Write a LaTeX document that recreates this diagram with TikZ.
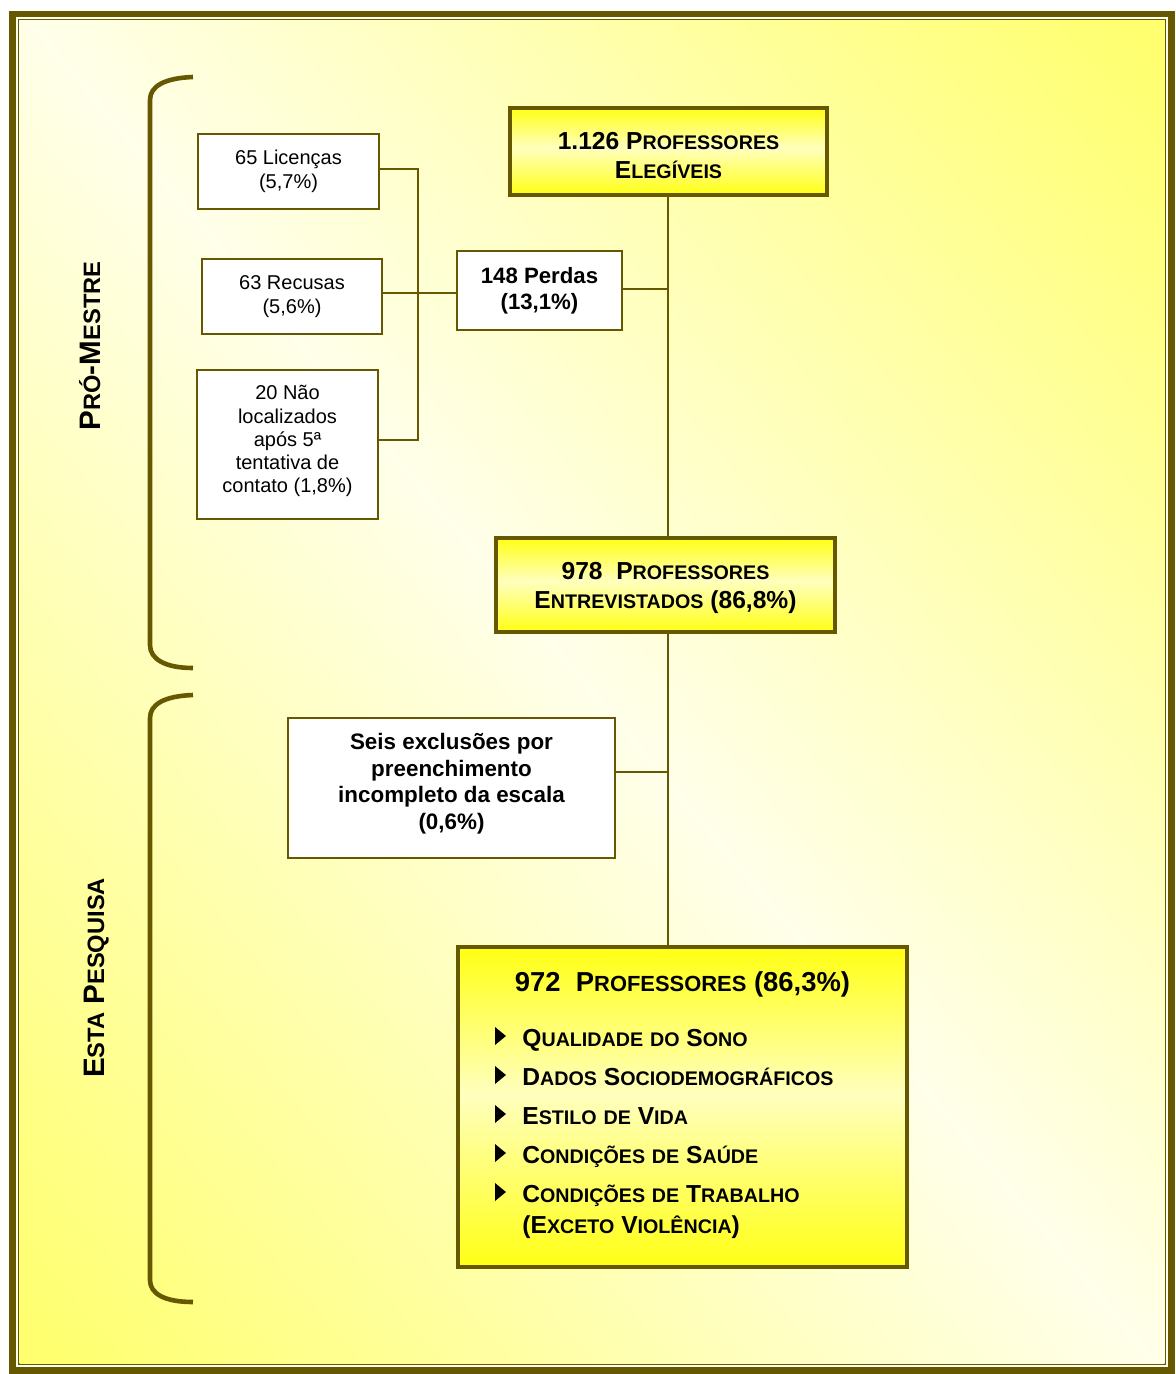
\documentclass[tikz,border=0pt]{standalone}
\usepackage{fontspec}
\setmainfont{Liberation Sans}
\usepackage{graphicx}
\definecolor{olv}{RGB}{102,88,0}
\definecolor{bgY}{RGB}{255,255,112}
\definecolor{bgW}{RGB}{255,255,234}
\definecolor{byY}{RGB}{255,255,20}
\definecolor{byW}{RGB}{255,255,190}
\definecolor{strip}{RGB}{255,255,240}
\pgfdeclarehorizontalshading{bgsh}{100bp}{color(0bp)=(bgY); color(16bp)=(bgY); color(50bp)=(bgW); color(84bp)=(bgY); color(100bp)=(bgY)}
\pgfdeclareverticalshading{boxsh}{100bp}{color(0bp)=(byY); color(25bp)=(byY); color(52bp)=(byW); color(75bp)=(byY); color(100bp)=(byY)}
\newcommand\sm[1]{\scalebox{0.8}{#1}}
\newcommand\fs[2]{\fontsize{#1pt}{#2pt}\selectfont}
\begin{document}
\begin{tikzpicture}[x=0.5pt,y=-0.5pt,
  wbox/.style={draw=olv, line width=1.2pt, fill=white, align=center, inner sep=0pt},
  ybox/.style={draw=olv, line width=1.6pt, shade, shading=boxsh, align=center, inner sep=0pt},
  conn/.style={draw=olv, line width=1.4pt},
  brc/.style={draw=olv, line width=2.3pt},
  itm/.style={anchor=base west, inner sep=0pt, font=\bfseries\fs{12.3}{14.5}},
  tri/.style={fill=black}]
\useasboundingbox (0,0) rectangle (1175,1374);
% frame and background
\fill[olv] (9,11) rectangle (1175,1374);
\fill[strip] (16,17) rectangle (1168,1367);
\draw[olv, line width=0.8pt] (18.5,19.5) rectangle (1165.5,1364);
\shade[shading=bgsh, shading angle=40] (19.5,20.5) rectangle (1164.5,1363);
% braces
\draw[brc] (193,77) .. controls (165,78) and (150,86) .. (150,100) -- (150,645) .. controls (150,659) and (165,668) .. (193,668);
\draw[brc] (193,695) .. controls (165,696) and (150,704) .. (150,718) -- (150,1280) .. controls (150,1294) and (165,1302) .. (193,1302);
% side labels
\node[rotate=90, anchor=base, inner sep=0pt, font=\bfseries\fs{14.8}{16}] (pm) at (100,346) {P\sm{RÓ}-M\sm{ESTRE}};
\node[rotate=90, anchor=base, inner sep=0pt, font=\bfseries\fs{14.8}{16}] (ep) at (104,978) {E\sm{STA} P\sm{ESQUISA}};
% white boxes
\node[wbox, minimum width=90.5pt, minimum height=37.5pt, font=\fs{10}{11.75}] (lic) at (288.5,171.5) {65 Licenças\\(5,7\%)};
\node[wbox, minimum width=90pt, minimum height=37.5pt, font=\fs{10}{11.75}] (rec) at (292,296.5) {63 Recusas\\(5,6\%)};
\node[wbox, minimum width=90.5pt, minimum height=74.5pt, font=\fs{10}{11.65}] (nao) at (287.5,444.5) {20 Não\\localizados\\após 5ª\\tentativa de\\contato (1,8\%)\rule[-5.3pt]{0pt}{0pt}};
\node[wbox, minimum width=82.5pt, minimum height=39.5pt, font=\bfseries\fs{11.1}{13}] (per) at (539.5,290.5) {148 Perdas\\(13,1\%)};
\node[wbox, minimum width=163.5pt, minimum height=70pt, font=\bfseries\fs{11.2}{13.25}] (seis) at (451.5,788) {Seis exclusões por\\preenchimento\\incompleto da escala\\(0,6\%)\rule[-6.6pt]{0pt}{0pt}};
% yellow boxes
\node[ybox, minimum width=158.5pt, minimum height=43.5pt, font=\bfseries\fs{12.3}{14.5}] (ele) at (668.5,151.5) {\rule{0pt}{12.8pt}1.126 P\sm{ROFESSORES}\\E\sm{LEGÍVEIS}};
\node[ybox, minimum width=169.5pt, minimum height=47pt, font=\bfseries\fs{12.3}{14.5}] (ent) at (665.5,585) {\rule{0pt}{11.8pt}978~~P\sm{ROFESSORES}\\E\sm{NTREVISTADOS} (86,8\%)};
\node[ybox, minimum width=224.5pt, minimum height=160pt] (fin) at (682.5,1107) {};
\node[anchor=base, inner sep=0pt, font=\bfseries\fs{13.7}{16}] (fint) at (682.5,991) {972~~P\sm{ROFESSORES} (86,3\%)};
\node[itm] (i1) at (522,1046) {Q\sm{UALIDADE} \sm{DO} S\sm{ONO}};
\node[itm] (i2) at (522,1085) {D\sm{ADOS} S\sm{OCIODEMOGRÁFICOS}};
\node[itm] (i3) at (522,1124) {E\sm{STILO} \sm{DE} V\sm{IDA}};
\node[itm] (i4) at (522,1163) {C\sm{ONDIÇÕES} \sm{DE} S\sm{AÚDE}};
\node[itm] (i5) at (522,1202) {C\sm{ONDIÇÕES} \sm{DE} T\sm{RABALHO}};
\node[itm] (i6) at (522,1233) {(E\sm{XCETO} V\sm{IOLÊNCIA})};
\foreach \b in {1046,1085,1124,1163,1202}
  \fill[tri] (495,\b-1) -- (495,\b-19) -- (506,\b-10) -- cycle;
% connectors
\coordinate (trk) at (668,0);
\coordinate (bt) at (418,169);
\coordinate (bb) at (418,440);
\coordinate (rj) at (418,293);
\coordinate (pj) at (668,289);
\coordinate (sj) at (668,772);
\draw[conn] (ele.south -| trk) -- (ent.north -| trk);
\draw[conn] (ent.south -| trk) -- (fin.north -| trk);
\draw[conn] (bt -| lic.east) -- (bt) -- (bb) -- (bb -| nao.east);
\draw[conn] (rj -| rec.east) -- (rj -| per.west);
\draw[conn] (pj -| per.east) -- (pj);
\draw[conn] (sj -| seis.east) -- (sj);
\end{tikzpicture}
\end{document}
